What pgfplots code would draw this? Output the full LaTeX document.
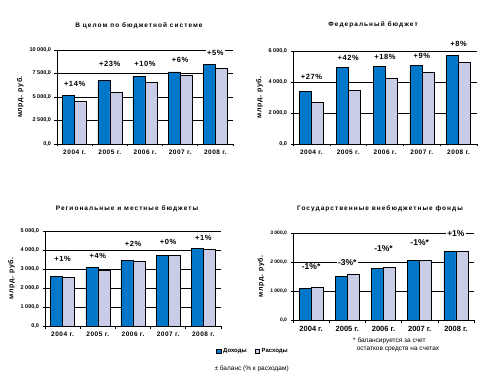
\documentclass[border=0pt]{standalone}
\usepackage{pgfplots}
\pgfplotsset{compat=1.18}
\usepackage{fontspec}
\setmainfont{Liberation Sans}
\newfontfamily\wide[LetterSpace=8]{Liberation Sans}
\newfontfamily\wider[LetterSpace=16]{Liberation Sans}
\definecolor{inc}{HTML}{0077C8}
\definecolor{expn}{HTML}{C8CCE6}
\tikzset{lbl/.style={font=\fontsize{7.5}{8}\selectfont\wide\bfseries, fill=white, inner sep=1pt},
  ttl/.style={font=\fontsize{6.5}{7}\selectfont\wider\bfseries}}
\pgfplotsset{panel/.style={
  scale only axis, anchor=south west, ybar=0pt, bar width=12pt,
  xmin=-0.5, xmax=4.5, ymin=0, clip=false,
  axis x line*=bottom, axis y line*=left,
  axis line style={line width=0.7pt},
  xtick={0,...,4}, xticklabels={2004 г.,2005 г.,2006 г.,2007 г.,2008 г.},
  minor xtick={-0.5,0.5,...,4.5},
  major x tick style={draw=none},
  tick align=outside, major tick length=2.5pt, minor tick length=2.5pt,
  tick style={black, line width=0.6pt},
  ymajorgrids, grid style={black, line width=0.7pt},
  scaled y ticks=false,
  xticklabel style={font=\fontsize{6.5}{7}\selectfont\wide\bfseries},
  yticklabel style={font=\fontsize{5.5}{6}\selectfont\bfseries},
  /pgf/number format/.cd, fixed, fixed zerofill, precision=1, use comma, 1000 sep={\;},
  /pgf/number format/assume math mode=true,
  /pgfplots/.cd,
  ylabel={млрд. руб.}, ylabel style={font=\fontsize{7}{8}\selectfont\wide\bfseries, yshift=-1pt},
  every axis plot/.append style={draw=black, line width=0.5pt},
}}
\begin{document}
\begin{tikzpicture}
\path[use as bounding box] (0,0) rectangle (495pt,-379pt);
% Panel 1
\node[ttl] at (139pt,-26pt) {В целом по бюджетной системе};
\begin{axis}[panel, at={(57pt,-144pt)}, width=176pt, height=94pt, ymax=10000, ytick={0,2500,5000,7500,10000}]
\addplot[fill=inc] coordinates {(0,5177)(1,6773)(2,7199)(3,7660)(4,8475)};
\addplot[fill=expn] coordinates {(0,4574)(1,5496)(2,6560)(3,7305)(4,8050)};
\node[lbl] at (axis cs:0,6383) {+14\%};
\node[lbl] at (axis cs:1,8510) {+23\%};
\node[lbl] at (axis cs:2,8510) {+10\%};
\node[lbl] at (axis cs:3,8936) {+6\%};
\node[lbl] at (axis cs:4,9680) {+5\%};
\end{axis}
% Panel 2
\node[ttl] at (373pt,-25pt) {Федеральный бюджет};
\begin{axis}[panel, at={(293pt,-144pt)}, width=184pt, height=93pt, ymax=6000, ytick={0,2000,4000,6000}]
\addplot[fill=inc] coordinates {(0,3386)(1,4929)(2,4993)(3,5057)(4,5700)};
\addplot[fill=expn] coordinates {(0,2679)(1,3450)(2,4221)(3,4629)(4,5271)};
\node[lbl] at (axis cs:0,4323) {+27\%};
\node[lbl] at (axis cs:1,5548) {+42\%};
\node[lbl] at (axis cs:2,5613) {+18\%};
\node[lbl] at (axis cs:3,5677) {+9\%};
\node[lbl] at (axis cs:4,6452) {+8\%};
\end{axis}
% Panel 3
\node[ttl] at (127pt,-209pt) {Региональные и местные бюджеты};
\begin{axis}[panel, at={(45pt,-326pt)}, width=176pt, height=95pt, ymax=5000, ytick={0,1000,...,5000},
  legend style={at={(0.955,-0.27)}, anchor=west, draw=none, fill=none, legend columns=2,
    font=\fontsize{6}{7}\selectfont\bfseries, /tikz/every even column/.append style={column sep=6pt}},
  legend image code/.code={\draw[#1, line width=0.4pt] (0pt,-2pt) rectangle (4.5pt,2.5pt);}]
\addplot[fill=inc] coordinates {(0,2606)(1,3081)(2,3451)(3,3715)(4,4085)};
\addplot[fill=expn] coordinates {(0,2553)(1,2940)(2,3398)(3,3715)(4,4032)};
\legend{Доходы, Расходы}
\node[lbl] at (axis cs:0,3526) {+1\%};
\node[lbl] at (axis cs:1,3684) {+4\%};
\node[lbl] at (axis cs:2,4316) {+2\%};
\node[lbl] at (axis cs:3,4421) {+0\%};
\node[lbl] at (axis cs:4,4632) {+1\%};
\end{axis}
% Panel 4
\node[ttl] at (380pt,-209pt) {Государственные внебюджетные фонды};
\begin{axis}[panel, at={(293pt,-320pt)}, width=181pt, height=87pt, ymax=3000, ytick={0,1000,2000,3000},
  xticklabel style={font=\fontsize{7.5}{8}\selectfont\bfseries}, yticklabel style={font=\fontsize{5}{6}\selectfont\bfseries}]
\addplot[fill=inc] coordinates {(0,1088)(1,1500)(2,1786)(3,2050)(4,2359)};
\addplot[fill=expn] coordinates {(0,1122)(1,1569)(2,1821)(3,2055)(4,2359)};
\node[lbl, font=\fontsize{8.5}{9}\selectfont\bfseries] at (axis cs:0,1828) {-1\%*};
\node[lbl, font=\fontsize{8.5}{9}\selectfont\bfseries] at (axis cs:1,1966) {-3\%*};
\node[lbl, font=\fontsize{8.5}{9}\selectfont\bfseries] at (axis cs:2,2448) {-1\%*};
\node[lbl, font=\fontsize{8.5}{9}\selectfont\bfseries] at (axis cs:3,2655) {-1\%*};
\node[lbl, font=\fontsize{8.5}{9}\selectfont\bfseries] at (axis cs:4,2966) {+1\%};
\end{axis}
% notes
\node[anchor=west, font=\fontsize{6.5}{7}\selectfont] at (211pt,-369pt) {± баланс (\% к расходам)};
\node[anchor=north west, align=left, font=\fontsize{6.5}{7.5}\selectfont, inner sep=0pt] at (353pt,-338pt) {* балансируется за счет\\\ \ остатков средств на счетах};
\end{tikzpicture}
\end{document}
